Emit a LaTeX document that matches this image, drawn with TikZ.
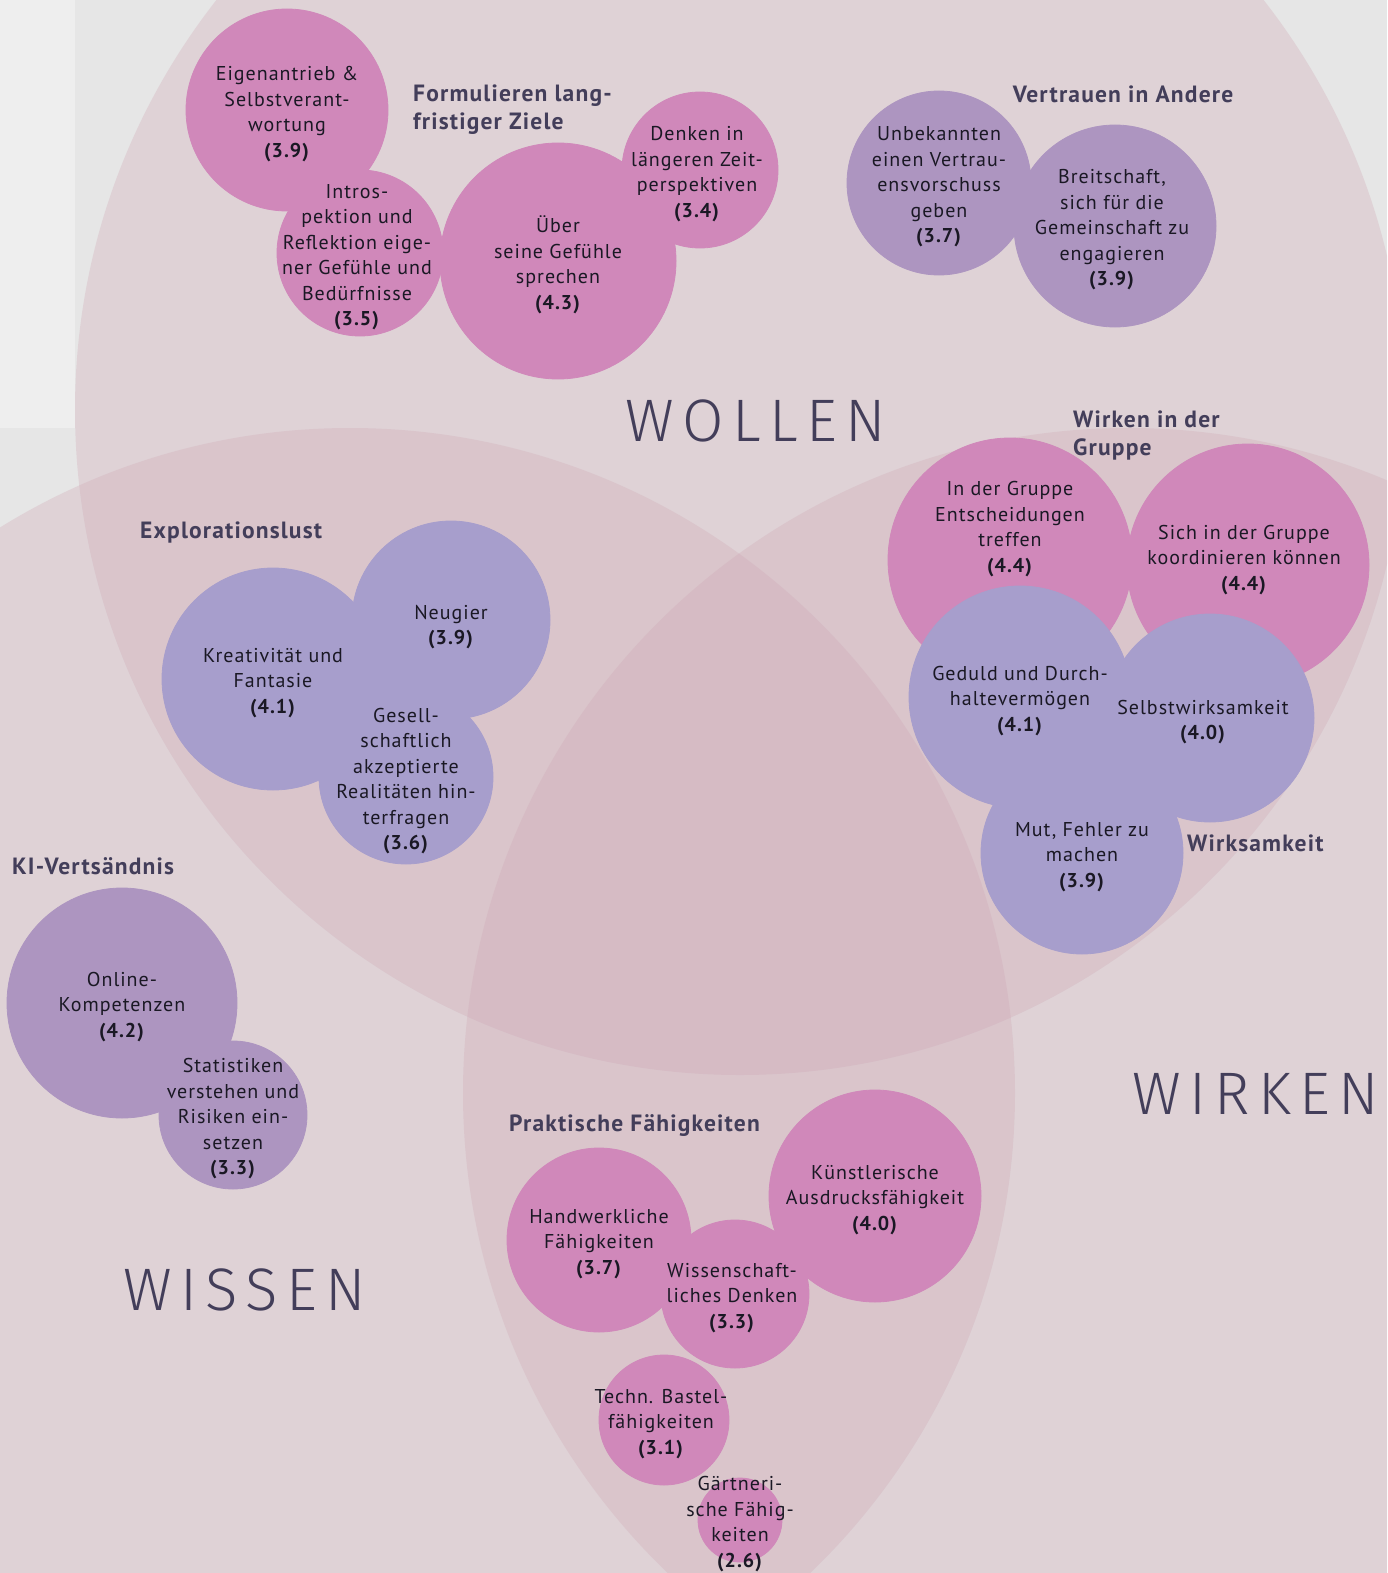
\documentclass[tikz,border=0pt]{standalone}
\usepackage{fontspec}
\setmainfont{PT Sans}
\newfontfamily\thinfont[LetterSpace=14]{Fira Sans Light}
\newfontfamily\ballfont[LetterSpace=5]{PT Sans}
\newfontfamily\groupfont[LetterSpace=5]{PT Sans Bold}
\usepackage{tikz}

\definecolor{bggray}{HTML}{E6E6E6}
\definecolor{bglight}{HTML}{EEEEEE}
\definecolor{vennrose}{RGB}{207,167,180}
\definecolor{ballpink}{HTML}{D088BA}
\definecolor{balllilac}{HTML}{A79ECC}
\definecolor{ballmauve}{HTML}{AD95C0}
\definecolor{inkdark}{HTML}{1A1824}
\definecolor{inkgroup}{HTML}{433E5A}

\newcommand{\score}[1]{\textbf{(#1)}}

\begin{document}
\begin{tikzpicture}[x=1pt, y=-1pt,
    venn/.style={fill=vennrose, fill opacity=0.3},
    ball/.style={circle, inner sep=0pt, line width=0.8pt, minimum size=#1pt},
    balltext/.style={align=center, text=inkdark, inner sep=0pt, yshift=-4pt, font=\fontsize{20}{25.5}\ballfont},
    grouplabel/.style={anchor=west, align=left, text=inkgroup, inner sep=0pt, yshift=-2pt, font=\fontsize{23.5}{28}\groupfont},
    biglabel/.style={anchor=west, text=inkgroup, inner sep=0pt, font=\fontsize{60}{60}\thinfont}]

    % Background and page size
    \useasboundingbox (0,0) rectangle (1387,1573);
    \fill[bggray] (0,0) rectangle (1387,1573);
    \fill[bglight] (0,0) rectangle (75,428);

    % The three big circles: Wollen, Wissen, Wirken
    \begin{scope}
        \clip (0,0) rectangle (1387,1573);
        \foreach \cx/\cy in {740/410, 350/1093, 1128/1093}
            \fill[venn] (\cx,\cy) circle[radius=665pt];
    \end{scope}

    % Pink balls
    \foreach \name/\x/\y/\d in {eigen/287/110/202, intro/360/253/166, ueber/558/261/236,
        denken/700/170/156, grpent/1010/560/244, koord/1248/565/242, handw/599/1240/184,
        wissdenk/735/1294/148, kuenst/875/1196/212, techn/664/1420/130, gaert/740/1520/84}
        \node[ball=\d, fill=ballpink, draw=ballpink] (\name) at (\x,\y) {};

    % Lilac balls
    \foreach \name/\x/\y/\d in {geduld/1020/697/222, selbst/1210/718/208, mut/1082/853/202,
        kreativ/273/679/222, neugier/451/620/198, gesell/406/777/174}
        \node[ball=\d, fill=balllilac, draw=balllilac] (\name) at (\x,\y) {};

    % Mauve balls
    \foreach \name/\x/\y/\d in {unbek/939/183/184, breit/1115/226/202,
        online/122/1003/230, statist/233/1115/148}
        \node[ball=\d, fill=ballmauve, draw=ballmauve] (\name) at (\x,\y) {};

    % Texts in the balls
    \node[balltext] at (eigen) {Eigenantrieb \&\\Selbstverant-\\wortung\\\score{3.9}};
    \node[balltext] at ([xshift=-3pt]intro) {Intros-\\pektion und\\Reflektion eige-\\ner Gefühle und\\Bedürfnisse\\\score{3.5}};
    \node[balltext] at (ueber) {Über\\seine Gefühle\\sprechen\\\score{4.3}};
    \node[balltext] at ([xshift=-3pt]denken) {Denken in\\längeren Zeit-\\perspektiven\\\score{3.4}};
    \node[balltext] at (unbek) {Unbekannten\\einen Vertrau-\\ensvorschuss\\geben\\\score{3.7}};
    \node[balltext] at ([xshift=-3pt]breit) {Breitschaft,\\sich für die\\Gemeinschaft zu\\engagieren\\\score{3.9}};
    \node[balltext] at ([yshift=35pt]grpent) {In der Gruppe\\Entscheidungen\\treffen\\\score{4.4}};
    \node[balltext] at ([xshift=-4pt, yshift=9pt]koord) {Sich in der Gruppe\\koordinieren können\\\score{4.4}};
    \node[balltext] at (geduld) {Geduld und Durch-\\haltevermögen\\\score{4.1}};
    \node[balltext] at ([xshift=-7pt]selbst) {Selbstwirksamkeit\\\score{4.0}};
    \node[balltext] at (mut) {Mut, Fehler zu\\machen\\\score{3.9}};
    \node[balltext] at (kreativ) {Kreativität und\\Fantasie\\\score{4.1}};
    \node[balltext] at ([yshift=-3pt]neugier) {Neugier\\\score{3.9}};
    \node[balltext] at (gesell) {Gesell-\\schaftlich\\akzeptierte\\Realitäten hin-\\terfragen\\\score{3.6}};
    \node[balltext] at (online) {Online-\\Kompetenzen\\\score{4.2}};
    \node[balltext] at (statist) {Statistiken\\verstehen und\\Risiken ein-\\setzen\\\score{3.3}};
    \node[balltext] at (handw) {Handwerkliche\\Fähigkeiten\\\score{3.7}};
    \node[balltext] at ([xshift=-3pt]wissdenk) {Wissenschaft-\\liches Denken\\\score{3.3}};
    \node[balltext] at (kuenst) {Künstlerische\\Ausdrucksfähigkeit\\\score{4.0}};
    \node[balltext] at ([xshift=-3pt]techn) {Techn. Bastel-\\fähigkeiten\\\score{3.1}};
    \node[balltext] at (gaert) {Gärtneri-\\sche Fähig-\\keiten\\\score{2.6}};

    % Group labels
    \node[grouplabel] (lziele) at (413,108) {Formulieren lang-\\fristiger Ziele};
    \node[grouplabel, anchor=center] (lvertrauen) at (1123,92) {Vertrauen in Andere};
    \node[grouplabel] (lgruppe) at (1073,433) {Wirken in der\\Gruppe};
    \node[grouplabel] (lwirksam) at (1187,841) {Wirksamkeit};
    \node[grouplabel] (lexplor) at (140,530) {Explorationslust};
    \node[grouplabel] (lki) at (12,864) {KI-Vertsändnis};
    \node[grouplabel] (lprakt) at (509,1124) {Praktische Fähigkeiten};

    % Big circle labels
    \node[biglabel] (wollen) at (625,421) {WOLLEN};
    \node[biglabel] (wissen) at (123,1290) {WISSEN};
    \node[biglabel] (wirken) at (1132,1094) {WIRKEN};
\end{tikzpicture}
\end{document}
